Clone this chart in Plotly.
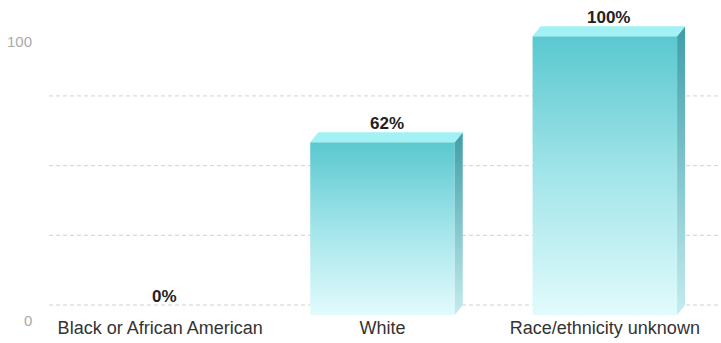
import plotly.graph_objects as go

# Share of students by race/ethnicity
categories = ["Black or African American", "White", "Race/ethnicity unknown"]
shares = [0, 62, 100]
share_labels = ["0%", "62%", "100%"]
grid_values = [0, 25, 50, 75]
axis_ticks = [0, 100]
axis_tick_labels = ["0", "100"]

# Canvas and plot-area geometry
W, H = 721, 343
MARGIN = dict(l=49, r=5, t=0, b=28)
Y_MAX = 113
plot_w = W - MARGIN["l"] - MARGIN["r"]
plot_h = H - MARGIN["t"] - MARGIN["b"]
px_per_cat = plot_w / len(categories)
px_per_unit = plot_h / Y_MAX

# Pseudo-3D depth of the bars (pixels converted to data units)
DX = 8 / px_per_cat
DY = 10 / px_per_unit
HALF = 0.325

FRONT_SCALE = [[0, "#e2fbfc"], [0.5, "#a2e5ea"], [1, "#5ac8cf"]]
SIDE_SCALE = [[0, "#c4ecef"], [1, "#3f9ea8"]]
TOP_COLOR = "#a2f1f4"
FONT = "Liberation Sans, Arial, sans-serif"

fig = go.Figure()

for i, v in enumerate(shares):
    x0, x1 = i - HALF, i + HALF
    if v > 0:
        # front face
        fig.add_trace(go.Scatter(
            x=[x0, x1, x1, x0, x0], y=[0, 0, v, v, 0],
            mode="lines", line=dict(width=0), fill="toself",
            fillgradient=dict(type="vertical", colorscale=FRONT_SCALE),
            hoverinfo="skip", showlegend=False))
        # right side face
        fig.add_trace(go.Scatter(
            x=[x1, x1 + DX, x1 + DX, x1, x1], y=[0, DY, v + DY, v, 0],
            mode="lines", line=dict(width=0), fill="toself",
            fillgradient=dict(type="vertical", colorscale=SIDE_SCALE),
            hoverinfo="skip", showlegend=False))
        # top face
        fig.add_trace(go.Scatter(
            x=[x0, x1, x1 + DX, x0 + DX, x0], y=[v, v, v + DY, v + DY, v],
            mode="lines", line=dict(width=0), fill="toself",
            fillcolor=TOP_COLOR, hoverinfo="skip", showlegend=False))
    # value label above the bar
    fig.add_annotation(
        x=i + DX / 2, y=v + DY, text=share_labels[i], showarrow=False,
        xanchor="center", yanchor="bottom", yshift=-3,
        font=dict(family=FONT, size=17, color="#222222", weight="bold"))

# dashed gridlines on the back wall
for g in grid_values:
    fig.add_shape(
        type="line", xref="paper", yref="y",
        x0=0, x1=1 + MARGIN["r"] / plot_w, y0=g + DY, y1=g + DY,
        line=dict(color="#d2d2d2", width=1, dash="4px,3px"), layer="below")

# value axis labels
for t, lab in zip(axis_ticks, axis_tick_labels):
    fig.add_annotation(
        x=0, xref="paper", y=t, yref="y", text=lab, showarrow=False,
        xanchor="right", yanchor="middle", xshift=-15, yshift=-5,
        font=dict(family=FONT, size=15, color="#aaaaaa"))

fig.update_layout(
    width=W, height=H, margin=MARGIN,
    paper_bgcolor="white", plot_bgcolor="white",
    xaxis=dict(range=[-0.5, 2.5], tickmode="array",
               tickvals=list(range(len(categories))), ticktext=categories,
               showgrid=False, zeroline=False, showline=False, ticks="",
               tickfont=dict(family=FONT, size=18, color="#333333"),
               fixedrange=True),
    yaxis=dict(range=[0, Y_MAX], showgrid=False, zeroline=False,
               showline=False, showticklabels=False, fixedrange=True),
    showlegend=False,
)

fig.write_html("out.html", config={"displayModeBar": False})
